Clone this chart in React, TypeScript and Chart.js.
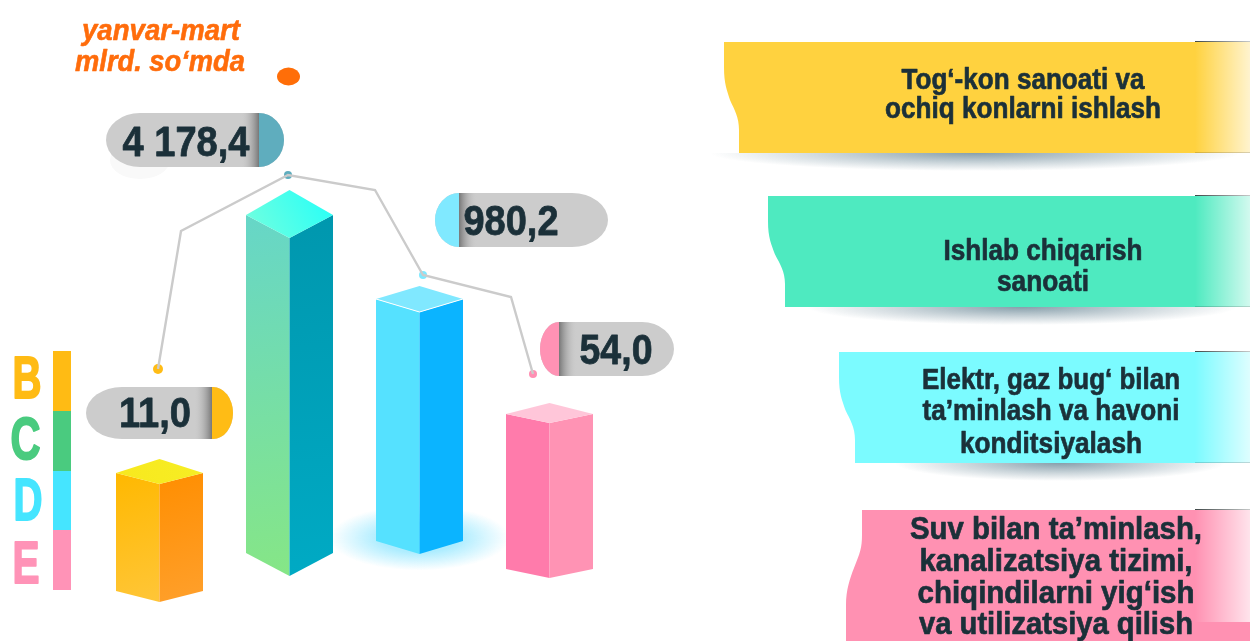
import React, { useEffect, useRef } from "react";
import { Chart, registerables } from "chart.js";

Chart.register(...registerables);

// ---- data ----
const categories = ["B", "C", "D", "E"];
const values = [11.0, 4178.4, 980.2, 54.0];
const barBase = [50, 88, 100, 72];
const barTop = [168, 426, 342, 227];
const depthUp = [14, 25, 13, 11];
const depthDown = [11, 23, 13, 9];
const connectorX = [158, 181, 288, 375, 423, 511, 533];
const connectorY = [272, 410, 466, 451, 366, 344, 267];
const dotX = [158, 288, 423, 533];
const dotY = [272, 466, 366, 267];
const sectors = [
  ["Tog‘-kon sanoati va", "ochiq konlarni ishlash"],
  ["Ishlab chiqarish", "sanoati"],
  ["Elektr, gaz bug‘ bilan", "ta’minlash va havoni", "konditsiyalash"],
  ["Suv bilan ta’minlash,", "kanalizatsiya tizimi,", "chiqindilarni yig‘ish", "va utilizatsiya qilish"],
];
const titleLines = ["yanvar-mart", "mlrd. so‘mda"];

// ---- styles ----
const TEXT = "#1b3039";
const SCALE_H = 641;
const barColors = [
  { left: ["#ffb800", "#ffc638"], right: ["#ff8e00", "#ffa02c"], top: ["#f8e81e", "#f6ee24"] },
  { left: ["#66d6c8", "#86e686"], right: ["#0097ae", "#00aac4"], top: ["#76ffdd", "#22fff9"] },
  { left: ["#55e1ff", "#55e1ff"], right: ["#0bb4ff", "#0bb4ff"], top: ["#80e8ff", "#80e8ff"] },
  { left: ["#ff7bab", "#ff7bab"], right: ["#ff93b4", "#ff93b4"], top: ["#ffc6d9", "#ffc6d9"] },
];
const dotColors = ["#ffbc15", "#5fadbe", "#80e9ff", "#ff8fb3"];
const dotSizes = [5, 4, 4, 4];
const legendColors = ["#ffbb14", "#4acb7f", "#45e5ff", "#ff93b7"];
const legendY = [351, 411, 471, 530, 590];
const letterX = [27, 25.5, 28, 26];
const letterY = [376.5, 437.5, 498.5, 562];
const letterW = [29, 30, 29, 27];
const pills = [
  { x0: 86, x1: 233, y0: 387, y1: 439, capL: false, div: 212, rxL: 36, rxR: 20, color: "#ffbc15", tx: 155, ty: 412, tw: 72 },
  { x0: 106, x1: 284, y0: 113, y1: 167, capL: false, div: 259, rxL: 34, rxR: 25, color: "#5fadbe", tx: 186, ty: 141, tw: 127 },
  { x0: 435, x1: 608, y0: 193, y1: 247, capL: true, div: 459, rxL: 24, rxR: 36, color: "#80e9ff", tx: 511, ty: 220, tw: 95 },
  { x0: 540, x1: 674, y0: 322, y1: 376, capL: true, div: 559, rxL: 19, rxR: 32, color: "#ff92b4", tx: 616, ty: 349, tw: 73 },
];
const ribbons = [
  { color: "#ffd23f", x0: 724, x1: 739, y0: 42, y1: 153, fadeEnd: 153, sx: 975, srx: 265, cx: 1023, lineY: [78, 107], widths: [243, 276], fs: 30 },
  { color: "#4eeac0", x0: 768, x1: 785, y0: 196, y1: 307, fadeEnd: 307, sx: 1022, srx: 215, cx: 1043, lineY: [249, 280], widths: [199, 92], fs: 30 },
  { color: "#7bfbff", x0: 839, x1: 855, y0: 352, y1: 463, fadeEnd: 463, sx: 1060, srx: 165, cx: 1051, lineY: [378, 409, 442], widths: [258, 257, 182], fs: 30 },
];
const ribbonE = { color: "#ff91b2", y0: 510, y1: 641, fadeEnd: 622, cx: 1056, lineY: [528, 560, 592, 623], widths: [292, 273, 277, 274], fs: 31 };

const fmt = (v: number) => {
  const [a, b] = v.toFixed(1).split(".");
  return a.replace(/\B(?=(\d{3})+(?!\d))/g, " ") + "," + b;
};

function fitText(ctx: CanvasRenderingContext2D, s: string, cx: number, cy: number, size: number, width: number, color: string, style = "bold", heavy = 0.7) {
  ctx.save();
  ctx.font = `${style} ${size}px "Liberation Sans", Arial, sans-serif`;
  ctx.textAlign = "center";
  ctx.textBaseline = "alphabetic";
  ctx.fillStyle = color;
  ctx.strokeStyle = color;
  ctx.lineJoin = "round";
  ctx.lineWidth = heavy;
  const w = ctx.measureText(s).width;
  ctx.translate(cx, cy);
  ctx.scale(width / w, 1);
  ctx.fillText(s, 0, size * 0.358);
  if (heavy > 0) ctx.strokeText(s, 0, size * 0.358);
  ctx.restore();
}

function poly(ctx: CanvasRenderingContext2D, pts: number[][], fill: string | CanvasGradient) {
  ctx.beginPath();
  pts.forEach((p, i) => (i ? ctx.lineTo(p[0], p[1]) : ctx.moveTo(p[0], p[1])));
  ctx.closePath();
  ctx.fillStyle = fill;
  ctx.fill();
}

function linear(ctx: CanvasRenderingContext2D, x0: number, y0: number, x1: number, y1: number, c: string[]) {
  const g = ctx.createLinearGradient(x0, y0, x1, y1);
  g.addColorStop(0, c[0]);
  g.addColorStop(1, c[1]);
  return g;
}

const backdropPlugin = {
  id: "backdrop",
  beforeDatasetsDraw(chart: any) {
    const ctx: CanvasRenderingContext2D = chart.ctx;
    const meta = chart.getDatasetMeta(0);
    // glow beneath bar D
    const el = meta.data[2];
    ctx.save();
    ctx.translate(el.x, el.base - 3);
    ctx.scale(1, 0.36);
    const g = ctx.createRadialGradient(0, 0, 40, 0, 0, 90);
    g.addColorStop(0, "rgba(120,225,255,0.6)");
    g.addColorStop(1, "rgba(120,225,255,0)");
    ctx.fillStyle = g;
    ctx.beginPath();
    ctx.arc(0, 0, 90, 0, Math.PI * 2);
    ctx.fill();
    ctx.restore();
    // 3D boxes
    meta.data.forEach((bar: any, i: number) => {
      const c = barColors[i];
      const hw = bar.width / 2;
      const L = bar.x - hw, R = bar.x + hw, X = bar.x;
      const T = bar.y, B = bar.base;
      const up = depthUp[i], dn = depthDown[i];
      poly(ctx, [[L, T], [X, T + dn], [X, B + dn], [L, B]], linear(ctx, L, T, X, B + dn, c.left));
      poly(ctx, [[X, T + dn], [R, T], [R, B], [X, B + dn]], linear(ctx, X, T, R, B + dn, c.right));
      poly(ctx, [[L, T], [X, T - up], [R, T], [X, T + dn]], linear(ctx, L, T + dn, R, T - up, c.top));
      if (i === 2) {
        ctx.strokeStyle = "#ffffff";
        ctx.lineWidth = 1;
        ctx.beginPath();
        ctx.moveTo(L, T);
        ctx.lineTo(X, T + dn);
        ctx.lineTo(R, T);
        ctx.stroke();
      }
    });
  },
  afterDatasetsDraw(chart: any) {
    const ctx: CanvasRenderingContext2D = chart.ctx;
    // title and its dot
    fitText(ctx, titleLines[0], 161, 29, 30, 158, "#ff6c0b", "italic bold", 0.6);
    fitText(ctx, titleLines[1], 160, 60, 30, 170, "#ff6c0b", "italic bold", 0.6);
    ctx.fillStyle = "#ff6e08";
    ctx.beginPath();
    ctx.ellipse(288.5, 76.5, 11.5, 9, 0, 0, Math.PI * 2);
    ctx.fill();

    // legend strips & letters
    categories.forEach((name, i) => {
      ctx.fillStyle = legendColors[i];
      ctx.fillRect(53, legendY[i], 18, legendY[i + 1] - legendY[i]);
      fitText(ctx, name, letterX[i], letterY[i], 59, letterW[i], legendColors[i], "bold", 2);
    });

    // value pills
    ctx.beginPath();
    ctx.fillStyle = "#f9f9f9";
    ctx.ellipse(140, 160, 30, 19, 0, 0, Math.PI * 2);
    ctx.fill();
    pills.forEach((p, i) => {
      const my = (p.y0 + p.y1) / 2, ry = (p.y1 - p.y0) / 2;
      ctx.save();
      ctx.beginPath();
      ctx.moveTo(p.x0 + p.rxL, p.y0);
      ctx.lineTo(p.x1 - p.rxR, p.y0);
      ctx.ellipse(p.x1 - p.rxR, my, p.rxR, ry, 0, -Math.PI / 2, Math.PI / 2);
      ctx.lineTo(p.x0 + p.rxL, p.y1);
      ctx.ellipse(p.x0 + p.rxL, my, p.rxL, ry, 0, Math.PI / 2, Math.PI * 1.5);
      ctx.closePath();
      ctx.fillStyle = "#cccccc";
      ctx.fill();
      ctx.clip();
      ctx.fillStyle = p.color;
      if (p.capL) ctx.fillRect(p.x0, p.y0, p.div - p.x0, p.y1 - p.y0);
      else ctx.fillRect(p.div, p.y0, p.x1 - p.div, p.y1 - p.y0);
      const dir = p.capL ? 1 : -1;
      const g = ctx.createLinearGradient(p.div, 0, p.div + dir * 18, 0);
      g.addColorStop(0, "rgba(110,110,110,0.9)");
      g.addColorStop(1, "rgba(204,204,204,0)");
      ctx.fillStyle = g;
      ctx.fillRect(p.capL ? p.div : p.div - 18, p.y0, 18, p.y1 - p.y0);
      ctx.restore();
      fitText(ctx, fmt(values[i]), p.tx, p.ty, 43, p.tw, TEXT, "bold", 0.8);
    });

    // ribbons
    ribbons.forEach((r) => {
      ctx.save();
      ctx.beginPath();
      ctx.rect(680, r.y1, 570, 24);
      ctx.clip();
      ctx.translate(r.sx, r.y1);
      ctx.scale(1, 18 / r.srx);
      const g = ctx.createRadialGradient(0, 0, 0, 0, 0, r.srx);
      g.addColorStop(0, "rgba(105,135,150,0.8)");
      g.addColorStop(0.55, "rgba(105,135,150,0.35)");
      g.addColorStop(1, "rgba(105,135,150,0)");
      ctx.fillStyle = g;
      ctx.beginPath();
      ctx.arc(0, 0, r.srx, 0, Math.PI * 2);
      ctx.fill();
      ctx.restore();

      const d = r.x1 - r.x0;
      ctx.beginPath();
      ctx.moveTo(r.x0, r.y0);
      ctx.lineTo(1250, r.y0);
      ctx.lineTo(1250, r.y1);
      ctx.lineTo(r.x1, r.y1);
      ctx.lineTo(r.x1, r.y0 + 88);
      ctx.bezierCurveTo(r.x1, r.y0 + 75, r.x0 + 0.7 * d, r.y0 + 68, r.x0 + 0.4 * d, r.y0 + 58);
      ctx.bezierCurveTo(r.x0 + 0.2 * d, r.y0 + 48, r.x0, r.y0 + 42, r.x0, r.y0 + 25);
      ctx.closePath();
      ctx.fillStyle = r.color;
      ctx.fill();
    });
    // last ribbon runs off the bottom of the picture
    ctx.beginPath();
    ctx.moveTo(862, ribbonE.y0);
    ctx.lineTo(1250, ribbonE.y0);
    ctx.lineTo(1250, ribbonE.y1);
    ctx.lineTo(846, ribbonE.y1);
    ctx.lineTo(846, 605);
    ctx.bezierCurveTo(846, 590, 850, 578, 854, 568);
    ctx.bezierCurveTo(860, 553, 862, 548, 862, 535);
    ctx.closePath();
    ctx.fillStyle = ribbonE.color;
    ctx.fill();

    [...ribbons, ribbonE].forEach((r: any, i) => {
      const h = r.fadeEnd - r.y0;
      const g = ctx.createLinearGradient(1195, 0, 1250, 0);
      g.addColorStop(0, "rgba(255,255,255,0)");
      g.addColorStop(1, "rgba(255,255,255,0.75)");
      ctx.fillStyle = g;
      ctx.fillRect(1195, r.y0, 55, h);
      const line = ctx.createLinearGradient(1195, 0, 1250, 0);
      line.addColorStop(0, "rgba(30,40,40,0.85)");
      line.addColorStop(1, "rgba(30,40,40,0.25)");
      ctx.fillStyle = line;
      ctx.fillRect(1195, r.y0 - 1, 55, 1);
      if (i < 3) {
        ctx.fillStyle = "rgba(0,0,0,0.15)";
        ctx.fillRect(1195, r.fadeEnd - 1, 55, 1);
      }
      sectors[i].forEach((s, j) => fitText(ctx, s, r.cx, r.lineY[j], r.fs, r.widths[j], TEXT, "bold", 0.7));
    });
  },
};

export default function App() {
  const ref = useRef<HTMLCanvasElement>(null);
  useEffect(() => {
    const chart = new Chart(ref.current as HTMLCanvasElement, {
      type: "bar",
      data: {
        labels: categories,
        datasets: [
          {
            type: "bar",
            data: barBase.map((b, i) => [b, barTop[i]]),
            backgroundColor: "rgba(0,0,0,0)",
            grouped: false,
            categoryPercentage: 1,
            barPercentage: 87 / 130,
            order: 3,
          },
          {
            type: "line",
            xAxisID: "xPos",
            data: connectorX.map((x, i) => ({ x, y: connectorY[i] })),
            borderColor: "#cbcbcb",
            borderWidth: 2.4,
            pointRadius: 0,
            tension: 0,
            clip: false,
            order: 1,
          },
          {
            type: "scatter",
            xAxisID: "xPos",
            data: dotX.map((x, i) => ({ x, y: dotY[i] })),
            pointBackgroundColor: dotColors,
            pointBorderWidth: 0,
            pointRadius: dotSizes,
            clip: false,
            order: 2,
          },
        ],
      } as any,
      options: {
        responsive: false,
        animation: false,
        layout: { autoPadding: false, padding: { left: 94.5, right: 635.5, top: 0, bottom: 0 } },
        plugins: { legend: { display: false }, tooltip: { enabled: false } },
        scales: {
          x: { type: "category", display: false, offset: true, grid: { offset: true } },
          xPos: { type: "linear", axis: "x", display: false, min: 94.5, max: 614.5, offset: false, grid: { offset: false } },
          y: { type: "linear", display: false, min: 0, max: SCALE_H },
        },
      } as any,
      plugins: [backdropPlugin],
    });
    return () => chart.destroy();
  }, []);
  return (
    <div style={{ position: "fixed", left: 0, top: 0, width: 1250, height: 641, background: "#fff" }}>
      <canvas ref={ref} width={1250} height={641} style={{ display: "block" }} />
    </div>
  );
}
